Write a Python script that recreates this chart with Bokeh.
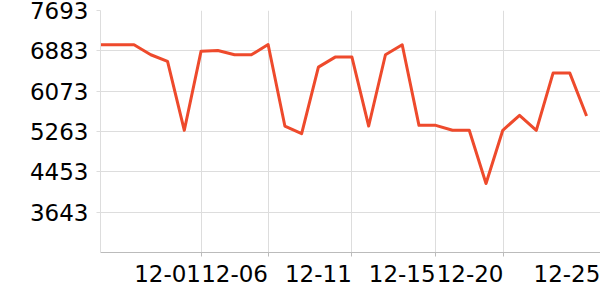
from bokeh.plotting import figure
from bokeh.models import FixedTicker, Range1d
from bokeh.embed import file_html
from bokeh.resources import INLINE

values = [7005, 7005, 7005, 6804, 6670, 5287, 6877, 6891, 6804, 6804,
          7011, 5373, 5220, 6556, 6757, 6757, 5373, 6804, 7005, 5387,
          5387, 5287, 5287, 4218, 5287, 5588, 5287, 6436, 6436, 5574]
x_index = list(range(len(values)))

y_ticks = [3643, 4453, 5263, 6073, 6883, 7693]
y_min = 2833
y_max = 7693

tick_labels = ["12-01", "12-06", "12-11", "12-15", "12-20", "12-25"]
tick_index = [6, 10, 15, 20, 24.05, 29.83]

FONT = "DejaVu Sans"
GRID = "#dddddd"
LINE = "#ee4a2c"

p = figure(width=600, height=300, output_backend="svg", toolbar_location=None,
           min_border_left=100, min_border_right=0, min_border_top=10, min_border_bottom=48,
           x_range=Range1d(0, 29.83), y_range=Range1d(y_min, y_max))
p.outline_line_color = None
p.background_fill_color = "white"
p.border_fill_color = "white"

p.line(x_index, values, line_color=LINE, line_width=3, line_join="round")

# label positions: right-aligned to ticks -> center shifted by half label width
label_pos = [t - 2.0 for t in tick_index]
xt = FixedTicker(ticks=label_pos, minor_ticks=tick_index)
p.xaxis.ticker = xt
p.xaxis.major_label_overrides = {lp: lab for lp, lab in zip(label_pos, tick_labels)}
p.xaxis.major_tick_line_color = None
p.xaxis.minor_tick_line_color = "#bbbbbb"
p.xaxis.minor_tick_in = 0
p.xaxis.minor_tick_out = 4
p.xaxis.major_tick_out = 4
p.xaxis.major_label_standoff = 8
p.xaxis.axis_line_color = "#bbbbbb"
p.xaxis.major_label_text_font = FONT
p.xaxis.major_label_text_font_size = "23px"
p.xaxis.major_label_text_color = "black"
p.xgrid.ticker = FixedTicker(ticks=tick_index)
p.xgrid.grid_line_color = GRID

p.yaxis.ticker = FixedTicker(ticks=y_ticks)
p.yaxis.axis_line_color = GRID
p.yaxis.major_tick_line_color = GRID
p.yaxis.major_tick_in = 0
p.yaxis.major_tick_out = 4
p.yaxis.minor_tick_line_color = None
p.yaxis.major_label_standoff = 8
p.yaxis.major_label_text_font = FONT
p.yaxis.major_label_text_font_size = "23px"
p.yaxis.major_label_text_color = "black"
p.ygrid.grid_line_color = GRID

open("out.html", "w").write(file_html(p, INLINE))
